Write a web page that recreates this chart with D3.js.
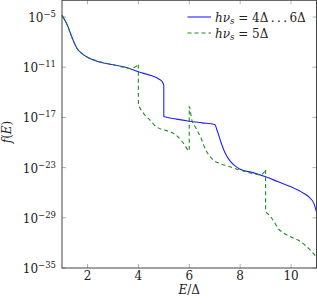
<!DOCTYPE html>
<html>
<head>
<meta charset="utf-8">
<script src="https://cdn.jsdelivr.net/npm/d3@7"></script>
<style>
	body { margin: 0; background: #fff; }
	svg { display: block; }
</style>
</head>
<body>
<div id="chart"></div>
<script>
// E/Delta positions and log10 f(E)
const blueE = [1.0, 1.2, 1.4, 1.6, 1.8, 2.0, 2.5, 3.0, 3.5, 4.0, 4.5, 4.8, 4.95, 5.0,
	5.0, 5.5, 6.0, 6.5, 7.0, 7.1, 7.25, 7.4, 7.6, 7.8, 8.0, 8.5, 9.0, 9.5, 10.0, 10.4, 10.7, 10.9, 11.0];
const blueLog = [-4.8, -5.9, -7.5, -8.8, -9.4, -9.8, -10.4, -10.7, -11.0, -11.55, -12.0, -12.4, -12.8, -13.2,
	-16.9, -17.2, -17.45, -17.65, -17.85, -18.6, -20.0, -21.2, -22.2, -22.8, -23.2, -23.6, -24.1, -24.7, -25.3, -25.9, -26.5, -27.3, -28.3];

const greenE = [1.0, 1.2, 1.4, 1.6, 1.8, 2.0, 2.5, 3.0, 3.5, 3.7, 3.85, 3.95, 4.0,
	4.0, 4.2, 4.45, 4.7, 5.0, 5.25, 5.55, 5.8, 5.95, 6.0,
	6.0, 6.1, 6.25, 6.45, 6.65, 6.95, 7.2, 7.5, 8.0, 8.5, 8.8, 8.95, 9.0,
	9.0, 9.15, 9.3, 9.5, 9.7, 10.0, 10.35, 10.6, 10.8, 11.0];
const greenLog = [-4.8, -5.9, -7.5, -8.8, -9.4, -9.8, -10.35, -10.7, -11.05, -11.15, -11.0, -10.8, -10.6,
	-15.3, -16.5, -17.3, -18.1, -18.5, -18.7, -19.3, -20.2, -20.9, -21.0,
	-15.7, -17.3, -18.2, -19.4, -20.9, -22.1, -22.5, -22.8, -23.3, -23.7, -23.85, -23.5, -23.2,
	-28.2, -28.7, -29.3, -30.3, -30.8, -31.3, -31.8, -32.4, -33.0, -33.7];

const xTicks = [2, 4, 6, 8, 10];
const yTickExps = [-35, -29, -23, -17, -11, -5];

const WIDTH = 317;
const HEIGHT = 307;
const PLOT = { LEFT: 62, RIGHT: 316.5, TOP: 0.3, BOTTOM: 268 };
const FONT = 12;
const SUB_FONT = 8.5;

const svg = d3.select('#chart').append('svg')
	.attr('width', WIDTH)
	.attr('height', HEIGHT)
	.style('font-family', '"DejaVu Serif", serif');

const x = d3.scaleLinear().domain([1, 11]).range([PLOT.LEFT, PLOT.RIGHT]);
const y = d3.scaleLog().domain([1e-35, 1e-3]).range([PLOT.BOTTOM, PLOT.TOP]);

const toPoints = function(es, logs) {
	return es.map((e, i) => [e, Math.pow(10, logs[i])]);
};

const line = d3.line()
	.x(d => x(d[0]))
	.y(d => y(d[1]))
	.curve(d3.curveMonotoneX);

const tickLen = 4;
const tickColor = '#777';

// inner ticks on all four sides
const ticks = svg.append('g').attr('stroke', tickColor).attr('stroke-width', 0.6);
xTicks.forEach(t => {
	ticks.append('line').attr('x1', x(t)).attr('x2', x(t)).attr('y1', PLOT.BOTTOM).attr('y2', PLOT.BOTTOM - tickLen);
	ticks.append('line').attr('x1', x(t)).attr('x2', x(t)).attr('y1', PLOT.TOP).attr('y2', PLOT.TOP + tickLen);
});
yTickExps.forEach(e => {
	const yy = y(Math.pow(10, e));
	ticks.append('line').attr('x1', PLOT.LEFT).attr('x2', PLOT.LEFT + tickLen).attr('y1', yy).attr('y2', yy);
	ticks.append('line').attr('x1', PLOT.RIGHT).attr('x2', PLOT.RIGHT - tickLen).attr('y1', yy).attr('y2', yy);
});

// curves
const curves = svg.append('g').attr('fill', 'none');
curves.append('path')
	.datum(toPoints(blueE, blueLog))
	.attr('d', line)
	.attr('stroke', '#1f1fff')
	.attr('stroke-width', 1.1);
curves.append('path')
	.datum(toPoints(greenE, greenLog))
	.attr('d', line)
	.attr('stroke', '#1c8c1c')
	.attr('stroke-width', 1.1)
	.attr('stroke-dasharray', '4,3');

// frame
svg.append('rect')
	.attr('x', PLOT.LEFT)
	.attr('y', PLOT.TOP)
	.attr('width', PLOT.RIGHT - PLOT.LEFT)
	.attr('height', PLOT.BOTTOM - PLOT.TOP)
	.attr('fill', 'none')
	.attr('stroke', '#444')
	.attr('stroke-width', 1);

// tick labels
svg.append('g').selectAll('text')
	.data(xTicks)
	.join('text')
		.attr('x', d => x(d))
		.attr('y', 279.5)
		.attr('text-anchor', 'middle')
		.attr('fill', '#222')
		.style('font-size', FONT + 'px')
		.text(d => d);

const yLabels = svg.append('g').selectAll('text')
	.data(yTickExps)
	.join('text')
		.attr('x', 56)
		.attr('y', d => y(Math.pow(10, d)) + 5)
		.attr('text-anchor', 'end')
		.attr('fill', '#222')
		.style('font-size', FONT + 'px');
yLabels.append('tspan').text('10');
yLabels.append('tspan')
	.attr('dy', -5)
	.style('font-size', SUB_FONT + 'px')
	.text(d => '\u2212' + Math.abs(d));

// axis titles
const xTitle = svg.append('text')
	.attr('x', (PLOT.LEFT + PLOT.RIGHT) / 2)
	.attr('y', 294)
	.attr('text-anchor', 'middle')
	.attr('fill', '#222')
	.style('font-size', FONT + 'px');
xTitle.append('tspan').style('font-style', 'italic').text('E');
xTitle.append('tspan').text('/\u0394');

const yTitle = svg.append('text')
	.attr('transform', `translate(10.5, 132) rotate(-90)`)
	.attr('text-anchor', 'middle')
	.attr('fill', '#222')
	.style('font-size', FONT + 'px');
yTitle.append('tspan').style('font-style', 'italic').text('f');
yTitle.append('tspan').text('(');
yTitle.append('tspan').style('font-style', 'italic').text('E');
yTitle.append('tspan').text(')');

// legend
const legend = svg.append('g');
const legendItems = [
	{ color: '#1f1fff', dash: null, value: '4\u0394\u2009.\u2009.\u2009.\u20096\u0394', y: 17 },
	{ color: '#1c8c1c', dash: '4,3', value: '5\u0394', y: 33 }
];
legendItems.forEach(item => {
	legend.append('line')
		.attr('x1', 187.5).attr('x2', 211)
		.attr('y1', item.y).attr('y2', item.y)
		.attr('stroke', item.color)
		.attr('stroke-width', 1.1)
		.attr('stroke-dasharray', item.dash);
	const t = legend.append('text')
		.attr('x', 215)
		.attr('y', item.y + 4.5)
		.attr('fill', '#222')
		.style('font-size', FONT + 'px');
	t.append('tspan').style('font-style', 'italic').text('h\u03bd');
	t.append('tspan').style('font-style', 'italic').style('font-size', SUB_FONT + 'px').attr('dy', 2).text('s');
	t.append('tspan').attr('dy', -2).text(' = ' + item.value);
});
</script>
</body>
</html>
